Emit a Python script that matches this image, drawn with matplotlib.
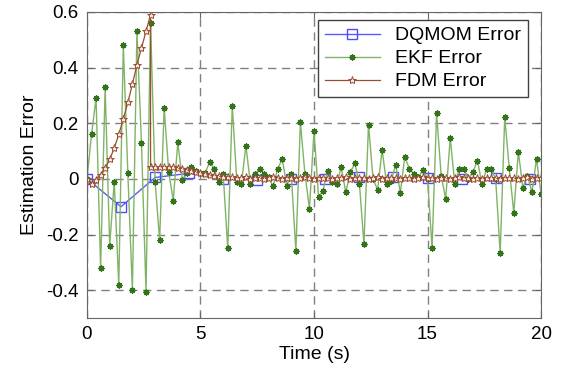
import matplotlib
matplotlib.use('Agg')
import matplotlib.pyplot as plt
import numpy as np

plt.rcParams['font.family'] = ['Liberation Sans', 'DejaVu Sans']

# EKF error, sampled every 0.2 s
ekf_t = np.linspace(0, 20, 101)
ekf_err = [0.0, 0.16, 0.29, -0.32, 0.33, -0.24, -0.01, -0.38, 0.48, 0.02,
           -0.40, 0.53, 0.13, -0.405, 0.56, -0.01, -0.22, 0.256, 0.025, -0.078,
           0.131, -0.004, 0.02, 0.042, 0.03, 0.02, 0.02, 0.06, 0.036, -0.012,
           0.016, -0.25, 0.263, -0.012, -0.018, 0.119, -0.018, 0.018, 0.036, 0.018,
           0.006, -0.027, 0.036, 0.072, -0.024, 0.016, -0.26, 0.203, 0.018, -0.107,
           0.173, -0.066, -0.042, 0.03, -0.012, -0.018, 0.042, -0.048, 0.024, 0.056,
           -0.018, -0.235, 0.195, 0.0, -0.039, 0.104, -0.018, -0.006, 0.051, -0.051,
           0.08, 0.036, 0.018, 0.006, 0.032, 0.0, -0.248, 0.235, 0.012, -0.072,
           0.147, -0.018, 0.036, 0.036, 0.0, 0.024, 0.066, -0.02, 0.036, 0.036,
           0.0, -0.265, 0.221, 0.039, -0.123, 0.098, -0.032, 0.012, -0.048, 0.072,
           -0.054]

# DQMOM error, every 1.5 s
dq_t = [0, 1.5, 3, 4.5, 6, 7.5, 9, 10.5, 12, 13.5, 15, 16.5, 18, 19.5]
dq_err = [0.0, -0.1, 0.005, 0.02, 0.0, -0.003, 0.0, 0.0, 0.005, 0.005,
          0.002, 0.0, 0.004, 0.0]

# FDM error: blows up until 2.8 s, then reset
fdm_t = np.concatenate([np.linspace(0, 2.8, 15), [2.8], np.linspace(3.0, 20, 86)])
fdm_err = ([0.0, -0.018, -0.005, 0.015, 0.04, 0.07, 0.11, 0.16, 0.215, 0.275,
            0.34, 0.41, 0.47, 0.53, 0.59]
           + [0.042]
           + [0.042, 0.043, 0.043, 0.043, 0.042, 0.040, 0.036]
           + [0.032, 0.028, 0.025, 0.022, 0.018, 0.015, 0.012, 0.010, 0.008, 0.006, 0.005]
           + [0.004, 0.002, 0.005, 0.001, 0.003, 0.004, 0.0, 0.003, 0.005, 0.002,
              0.001, 0.004, 0.003, 0.0, 0.002, 0.005, 0.003, 0.001, 0.004, 0.002,
              0.003, 0.0, 0.004, 0.002, 0.005, 0.001, 0.003, 0.004, 0.002, 0.0,
              0.003, 0.005, 0.001, 0.002, 0.004, 0.003, 0.0, 0.002, 0.004, 0.001,
              0.003, 0.005, 0.002, 0.003, 0.0, 0.004, 0.002, 0.001, 0.003, 0.005,
              0.002, 0.004, 0.001, 0.003, 0.0, 0.002, 0.004, 0.003, 0.001, 0.002,
              0.004, 0.003, 0.0, 0.002, 0.005, 0.001, 0.003, 0.002])

fig = plt.figure(figsize=(5.63, 3.73), dpi=100)
ax = fig.add_axes([0.1545, 0.1475, 0.8065, 0.8205])

ax.plot(dq_t, dq_err, '-', color=(0.35, 0.35, 1.0), lw=1.0, marker='s',
        ms=7, mfc='none', mec=(0.3, 0.3, 1.0), mew=1.0, label='DQMOM Error')
ax.plot(ekf_t, ekf_err, '-', color=(0.5, 0.7, 0.4), lw=1.0, marker=(8, 2, 0),
        ms=4.5, mec=(0.2, 0.45, 0.1), mfc=(0.2, 0.45, 0.1), mew=0.9, label='EKF Error')
ax.plot(fdm_t, fdm_err, '-', color=(0.6, 0.3, 0.2), lw=0.9, marker='*',
        ms=6, mfc=(0.97, 0.9, 0.86), mec=(0.6, 0.3, 0.2), mew=0.7, label='FDM Error')

ax.set_xlim(0, 20)
ax.set_ylim(-0.5, 0.6)
ax.set_xticks([0, 5, 10, 15, 20])
ax.set_yticks([-0.4, -0.2, 0, 0.2, 0.4, 0.6])
ax.set_yticklabels(['-0.4', '-0.2', '0', '0.2', '0.4', '0.6'])
ax.grid(True, color='0.5', linestyle=(0, (6, 4)), linewidth=1.0)
ax.set_axisbelow(True)
ax.tick_params(direction='in', length=4, labelsize=13.5, top=True, right=True,
               color='0.4', pad=6)
for s in ax.spines.values():
    s.set_color('0.4')

ax.set_xlabel('Time (s)', fontsize=14, labelpad=2)
ax.set_ylabel('Estimation Error', fontsize=14, labelpad=6)

leg = ax.legend(loc='upper right', bbox_to_anchor=(0.971, 0.974), borderaxespad=0,
                fontsize=14, handlelength=2.8, labelspacing=0.28, fancybox=False,
                framealpha=1, edgecolor='0.25', borderpad=0.35)
leg.get_frame().set_linewidth(1.0)

plt.savefig('out.png', dpi=100)
